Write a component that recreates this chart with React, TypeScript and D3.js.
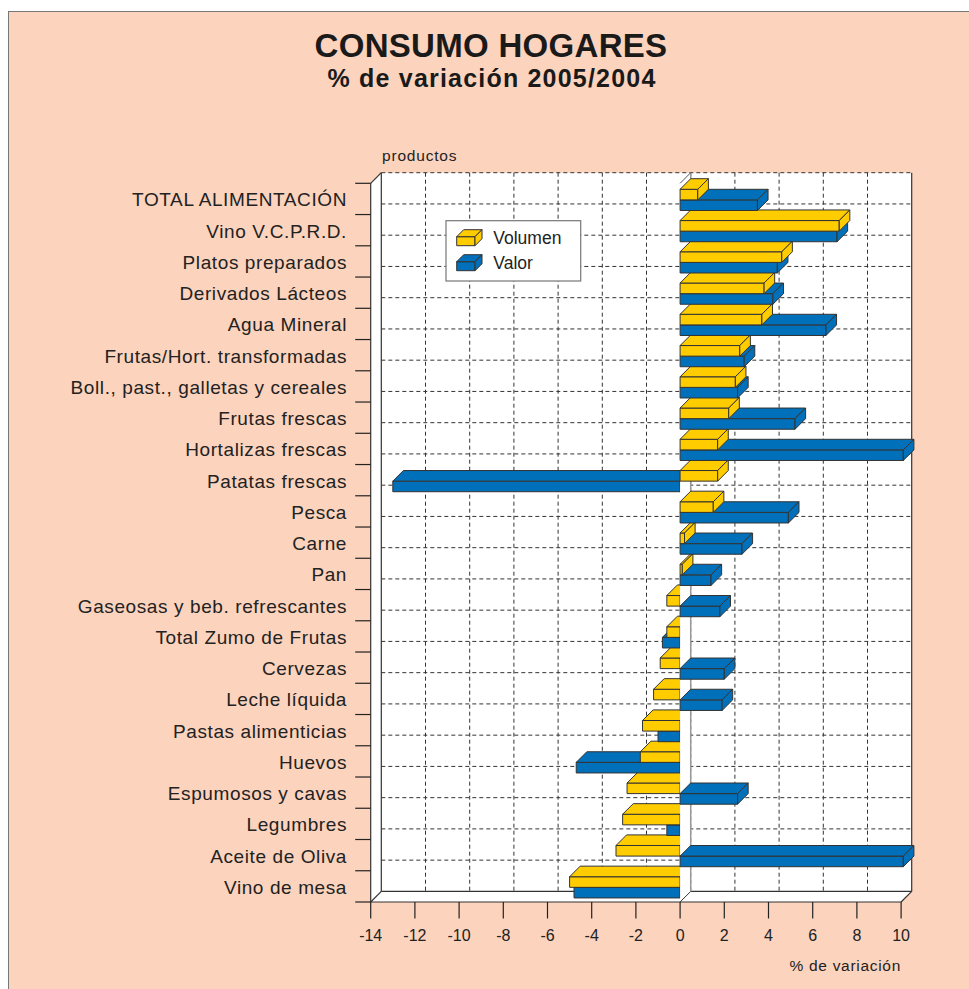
import React from "react";
import * as d3 from "d3";

const categories = [
  "TOTAL ALIMENTACIÓN",
  "Vino V.C.P.R.D.",
  "Platos preparados",
  "Derivados Lácteos",
  "Agua Mineral",
  "Frutas/Hort. transformadas",
  "Boll., past., galletas y cereales",
  "Frutas frescas",
  "Hortalizas frescas",
  "Patatas frescas",
  "Pesca",
  "Carne",
  "Pan",
  "Gaseosas y beb. refrescantes",
  "Total Zumo de Frutas",
  "Cervezas",
  "Leche líquida",
  "Pastas alimenticias",
  "Huevos",
  "Espumosos y cavas",
  "Legumbres",
  "Aceite de Oliva",
  "Vino de mesa",
];

const volumen = [0.8, 7.2, 4.6, 3.8, 3.7, 2.7, 2.5, 2.2, 1.7, 1.7, 1.5, 0.2, 0.1, -0.6, -0.6, -0.9, -1.2, -1.7, -1.8, -2.4, -2.6, -2.9, -5.0];
const valor = [3.5, 7.1, 4.4, 4.2, 6.6, 2.9, 2.6, 5.2, 10.1, -13.0, 4.9, 2.8, 1.4, 1.8, -0.8, 2.0, 1.9, -1.0, -4.7, 2.6, -0.6, 10.1, -4.8];

const xTicks = [-14, -12, -10, -8, -6, -4, -2, 0, 2, 4, 6, 8, 10];
const seriesNames = ["Volumen", "Valor"];

const YELLOW = "#ffcc00";
const BLUE = "#0070ba";
const EDGE = "#333";
const PEACH = "#fcd3bd";
const FONT = "'Liberation Sans', Arial, Helvetica, sans-serif";

const App = () => {
  const width = 969;
  const height = 989;

  // 3d depth offset
  const D = 10.6;
  const TOP = 183.3;
  const BOTTOM = 902;

  const xScale = d3.scaleLinear().domain([-14, 10]).range([370.7, 901.1]);
  const yScale = d3.scaleBand().domain(categories).range([TOP, BOTTOM]);

  const xL = xScale(-14);
  const xR = xScale(10);
  const x0 = xScale(0);
  const barOff = 6;
  const barH = 10.6;

  const pts = (arr) => arr.map((p) => p.join(",")).join(" ");

  // one 3d bar: front face, top face, end face (positive only)
  const box = (v, yTop, color, key) => {
    const a = Math.min(x0, xScale(v));
    const b = Math.max(x0, xScale(v));
    const yB = yTop + barH;
    const faces = [];
    faces.push(
      <polygon key="f" points={pts([[a, yTop], [b, yTop], [b, yB], [a, yB]])} />
    );
    faces.push(
      <polygon
        key="t"
        points={pts([[a, yTop], [b, yTop], [b + D, yTop - D], [a + D, yTop - D]])}
      />
    );
    if (v > 0) {
      faces.push(
        <polygon
          key="s"
          points={pts([[b, yTop], [b + D, yTop - D], [b + D, yB - D], [b, yB]])}
        />
      );
    }
    return (
      <g key={key} fill={color} stroke={EDGE} strokeWidth={1} strokeLinejoin="round">
        {faces}
      </g>
    );
  };

  const order = d3.range(categories.length - 1, -1, -1);
  const drawBars = (positive) =>
    order.map((i) => {
      const yt = yScale(categories[i]) + barOff;
      const out = [];
      if (valor[i] > 0 === positive && valor[i] !== 0) out.push(box(valor[i], yt + barH, BLUE, "b" + i));
      if (volumen[i] > 0 === positive && volumen[i] !== 0) out.push(box(volumen[i], yt, YELLOW, "v" + i));
      return <g key={(positive ? "p" : "n") + i}>{out}</g>;
    });

  const boundaries = d3.range(categories.length + 1).map((i) => TOP + i * yScale.step());

  return (
    <svg
      width={width}
      height={height}
      style={{ position: "absolute", left: 0, top: 0, background: "#fff" }}
    >
      <rect x={8.5} y={11.5} width={width} height={height} fill={PEACH} stroke="#777" strokeWidth={1} />

      <text x={491} y={57} textAnchor="middle" fontFamily={FONT} fontWeight="bold" fontSize={33} letterSpacing={0.3} fill="#1a1a1a">
        CONSUMO HOGARES
      </text>
      <text x={492} y={87} textAnchor="middle" fontFamily={FONT} fontWeight="bold" fontSize={25} letterSpacing={1.2} fill="#1a1a1a">
        % de variación 2005/2004
      </text>
      <text x={382} y={161} fontFamily={FONT} fontSize={15.5} letterSpacing={0.8} fill="#222">
        productos
      </text>

      {/* back wall */}
      <rect x={xL + D} y={TOP - D} width={xR - xL} height={BOTTOM - TOP} fill="#fff" />
      {/* left wall */}
      <polygon points={pts([[xL, TOP], [xL + D, TOP - D], [xL + D, BOTTOM - D], [xL, BOTTOM]])} fill="#fff" />
      {/* floor */}
      <polygon points={pts([[xL, BOTTOM], [xL + D, BOTTOM - D], [xR + D, BOTTOM - D], [xR, BOTTOM]])} fill="#fff" />

      {/* grid */}
      <g stroke="#333" strokeWidth={1} strokeDasharray="4,3">
        {xTicks.slice(1, -1).map((t) => (
          <line key={t} x1={xScale(t) + D} x2={xScale(t) + D} y1={TOP - D} y2={BOTTOM - D} />
        ))}
        {boundaries.slice(1, -1).map((b, i) => (
          <line key={i} x1={xL + D} x2={xR + D} y1={b - D} y2={b - D} />
        ))}
        <line x1={xL + D} x2={xR + D} y1={TOP - D} y2={TOP - D} />
      </g>

      {/* wall edges */}
      <g stroke="#333" strokeWidth={1.2} fill="none">
        <line x1={xL + D} x2={xL + D} y1={TOP - D} y2={BOTTOM - D} />
        <line x1={xL + D} x2={xR + D} y1={BOTTOM - D} y2={BOTTOM - D} />
        <line x1={xR + D} x2={xR + D} y1={TOP - D} y2={BOTTOM - D} />
        <line x1={xL} x2={xL} y1={TOP} y2={BOTTOM} />
        <line x1={xL} x2={xL + D} y1={TOP} y2={TOP - D} />
        <line x1={xL} x2={xL + D} y1={BOTTOM} y2={BOTTOM - D} />
        <line x1={xL} x2={xR} y1={BOTTOM} y2={BOTTOM} />
        <line x1={xR} x2={xR + D} y1={BOTTOM} y2={BOTTOM - D} />
      </g>

      {/* left category ticks */}
      <g stroke="#222" strokeWidth={1.2}>
        {boundaries.map((b, i) => (
          <line key={i} x1={xL - 15.5} x2={xL} y1={b} y2={b} />
        ))}
      </g>

      {/* bottom ticks & labels */}
      <g stroke="#222" strokeWidth={1.2}>
        {xTicks.map((t) => (
          <line key={t} x1={xScale(t)} x2={xScale(t)} y1={BOTTOM} y2={BOTTOM + 16.5} />
        ))}
      </g>
      <g fontFamily={FONT} fontSize={16} fill="#222" textAnchor="middle">
        {xTicks.map((t) => (
          <text key={t} x={xScale(t)} y={941}>
            {String(t)}
          </text>
        ))}
      </g>
      <text x={901} y={971} textAnchor="end" fontFamily={FONT} fontSize={15.5} letterSpacing={0.7} fill="#222">
        % de variación
      </text>

      {/* category labels */}
      <g fontFamily={FONT} fontSize={19} letterSpacing={0.6} fill="#222" textAnchor="end">
        {categories.map((c) => (
          <text key={c} x={347} y={yScale(c) + yScale.bandwidth() / 2 + 7.5}>
            {c}
          </text>
        ))}
      </g>

      {/* negative bars, then zero wall, then positive bars */}
      {drawBars(false)}
      <polygon points={pts([[x0, TOP], [x0 + D, TOP - D], [x0 + D, BOTTOM - D], [x0, BOTTOM]])} fill="#fff" stroke="none" />
      <line x1={x0 + D} x2={x0 + D} y1={TOP - D} y2={BOTTOM - D} stroke="#999" strokeWidth={1.5} />
      <line x1={x0} x2={x0 + D} y1={TOP} y2={TOP - D} stroke="#555" strokeWidth={1} />
      <line x1={x0} x2={x0 + D} y1={BOTTOM} y2={BOTTOM - D} stroke="#333" strokeWidth={1} />
      {drawBars(true)}

      {/* legend */}
      <rect x={446} y={220.7} width={134.7} height={60.3} fill="#fff" stroke="#777" strokeWidth={1.2} />
      {seriesNames.map((s, i) => {
        const fy = 236.7 + i * 25;
        const fx = 456.7;
        const w = 18.3;
        const h = 9;
        const d = 7;
        return (
          <g key={s}>
            <g fill={i === 0 ? YELLOW : BLUE} stroke={EDGE} strokeWidth={1} strokeLinejoin="round">
              <polygon points={pts([[fx, fy], [fx + w, fy], [fx + w, fy + h], [fx, fy + h]])} />
              <polygon points={pts([[fx, fy], [fx + w, fy], [fx + w + d, fy - d], [fx + d, fy - d]])} />
              <polygon points={pts([[fx + w, fy], [fx + w + d, fy - d], [fx + w + d, fy + h - d], [fx + w, fy + h]])} />
            </g>
            <text x={493.3} y={243.5 + i * 25.5} fontFamily={FONT} fontSize={17.5} fill="#222">
              {s}
            </text>
          </g>
        );
      })}
    </svg>
  );
};

export default App;
